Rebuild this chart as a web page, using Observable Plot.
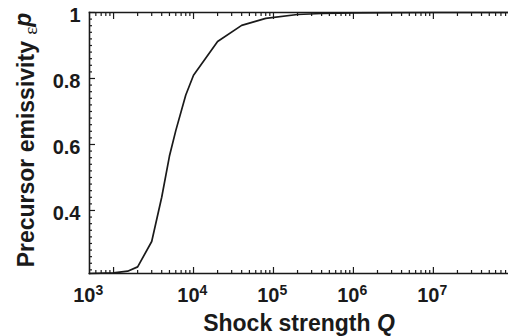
<!DOCTYPE html>
<html><head><meta charset="utf-8">
<script src="https://cdn.jsdelivr.net/npm/d3@7"></script>
<script src="https://cdn.jsdelivr.net/npm/@observablehq/plot@0.6"></script>
<style>
html,body{margin:0;padding:0;background:#fff;overflow:hidden;}
</style></head><body><div id="chart"></div>
<script>
// Data
const shockQ     = [500, 1000, 1500, 2000, 3000, 4000, 5000, 6000, 8000, 10000, 20000, 40000, 80000, 200000, 400000, 1e6, 1e7, 8.7e7];
const emissivity = [0.209, 0.211, 0.216, 0.229, 0.306, 0.44, 0.565, 0.642, 0.75, 0.81, 0.912, 0.961, 0.982, 0.994, 0.997, 0.999, 1.0, 1.0];

// Axes
const xDomain = [500, 8.7e7];
const yDomain = [0.209, 1];
const xMajorTicks = [1e3, 1e4, 1e5, 1e6, 1e7];
const xLabelPos = [500, 1e4, 1e5, 1e6, 1e7];
const xLabelBase = ["10", "10", "10", "10", "10"];
const xLabelExp = ["3", "4", "5", "6", "7"];
const yMajorTicks = [0.4, 0.6, 0.8, 1.0];
const yTickLabels = ["0.4", "0.6", "0.8", "1"];
const xTitle = "Shock strength Q";
const yTitle = "Precursor emissivity εp";

const xMinorTicks = [];
for (const dec of [1e2, 1e3, 1e4, 1e5, 1e6, 1e7]) for (let m = 2; m <= 9; m++) {
  const v = m * dec; if (v > xDomain[0] && v < xDomain[1]) xMinorTicks.push(v);
}
const yMinorTicks = d3.range(11, 50).map(i => i * 0.02).filter(v => v > yDomain[0] && Math.abs(v * 5 - Math.round(v * 5)) > 1e-6);

const data = shockQ.map((q, i) => ({q, e: emissivity[i]}));
const font = "Liberation Sans, Arial, Helvetica, sans-serif";
const ink = "#1a1a1a";

const tickOpts = {stroke: ink, strokeWidth: 1.2, tickFormat: () => "", label: null};

const chart = Plot.plot({
  width: 508, height: 336,
  marginLeft: 89, marginRight: 0, marginTop: 12, marginBottom: 63,
  style: {fontFamily: font, background: "#fff", color: ink},
  x: {type: "log", domain: xDomain},
  y: {domain: yDomain},
  marks: [
    Plot.axisX(xMajorTicks, {...tickOpts, anchor: "bottom", tickSize: 6, dy: -6}),
    Plot.axisX(xMinorTicks, {...tickOpts, anchor: "bottom", tickSize: 3, dy: -3}),
    Plot.axisX(xMajorTicks, {...tickOpts, anchor: "top", tickSize: 6, dy: 6}),
    Plot.axisX(xMinorTicks, {...tickOpts, anchor: "top", tickSize: 3, dy: 3}),
    Plot.axisY(yMajorTicks, {...tickOpts, anchor: "left", tickSize: 6, dx: 6}),
    Plot.axisY(yMinorTicks, {...tickOpts, anchor: "left", tickSize: 3, dx: 3}),
    Plot.frame({anchor: "left", stroke: ink, strokeWidth: 1.6}),
    Plot.frame({anchor: "top", stroke: ink, strokeWidth: 1.6}),
    Plot.frame({anchor: "bottom", stroke: ink, strokeWidth: 1.6}),
    Plot.line(data, {x: "q", y: "e", stroke: ink, strokeWidth: 1.7}),
    Plot.text(yMajorTicks, {y: d => d, frameAnchor: "left", text: (d, i) => yTickLabels[i],
      textAnchor: "end", lineAnchor: "middle", dx: -9, dy: 3, fontSize: 20, fontWeight: "bold", fill: ink}),
    Plot.text(xLabelPos, {x: d => d, frameAnchor: "bottom", text: (d, i) => xLabelBase[i],
      textAnchor: "end", lineAnchor: "bottom", dx: 6, dy: 28, fontSize: 20, fontWeight: "bold", fill: ink}),
    Plot.text(xLabelPos, {x: d => d, frameAnchor: "bottom", text: (d, i) => xLabelExp[i],
      textAnchor: "start", lineAnchor: "bottom", dx: 6, dy: 21, fontSize: 14, fontWeight: "bold", fill: ink}),
    Plot.text([xTitle], {frameAnchor: "bottom", text: d => d, textAnchor: "middle", lineAnchor: "bottom",
      dy: 57, fontSize: 23, fontWeight: "bold", fill: ink}),
    Plot.text([yTitle], {frameAnchor: "left", text: d => d, rotate: -90, textAnchor: "middle", lineAnchor: "bottom",
      dx: -56, dy: -3, fontSize: 23, fontWeight: "bold", fill: ink})
  ]
});
document.getElementById("chart").appendChild(chart);

// Rich text for titles (italic Q, epsilon with subscript p)
const svg = d3.select(chart);
svg.selectAll("text").filter(function() { return this.textContent === xTitle; }).each(function() {
  const t = d3.select(this); t.text(null);
  t.append("tspan").text("Shock strength ");
  t.append("tspan").attr("font-style", "italic").text("Q");
});
svg.selectAll("text").filter(function() { return this.textContent === yTitle; }).each(function() {
  const t = d3.select(this); t.text(null);
  t.append("tspan").text("Precursor emissivity ");
  t.append("tspan").attr("font-weight", "normal").attr("font-family", "Liberation Serif, serif")
    .attr("font-size", 19).attr("dy", 3).text("ε");
  t.append("tspan").attr("font-style", "italic").attr("dy", -6).text("p");
});
</script></body></html>
